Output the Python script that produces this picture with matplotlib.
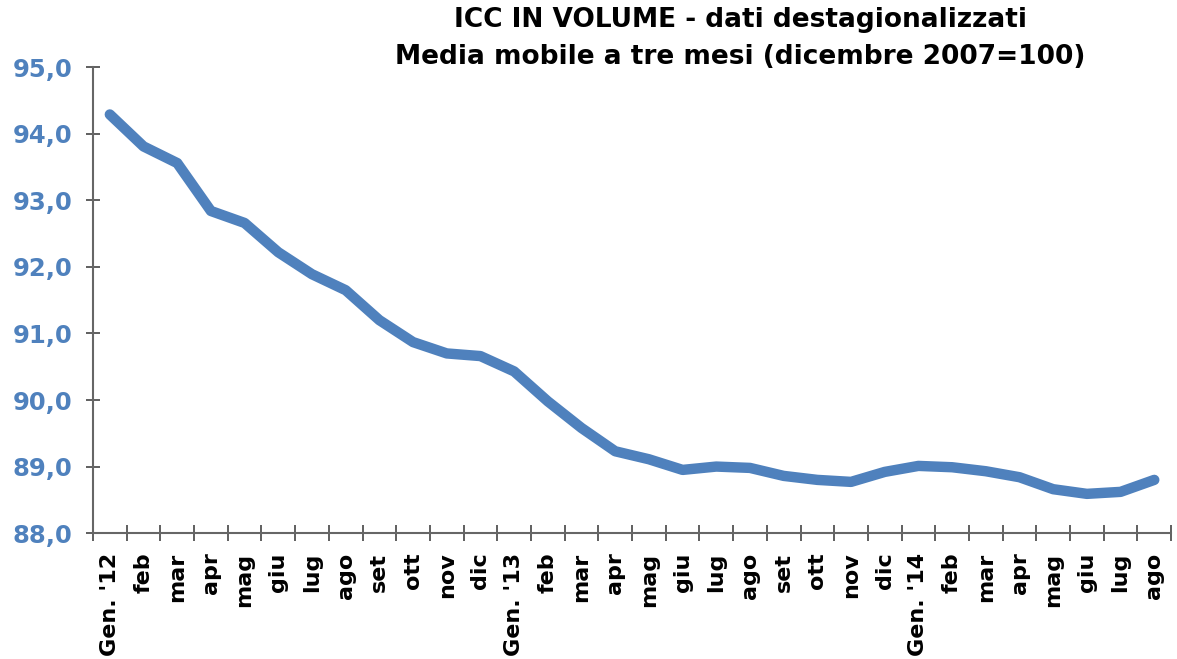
import matplotlib
matplotlib.use("Agg")
import matplotlib.pyplot as plt
import numpy as np

months = ["Gen. '12", "feb", "mar", "apr", "mag", "giu", "lug", "ago", "set", "ott", "nov", "dic",
          "Gen. '13", "feb", "mar", "apr", "mag", "giu", "lug", "ago", "set", "ott", "nov", "dic",
          "Gen. '14", "feb", "mar", "apr", "mag", "giu", "lug", "ago"]
icc = [94.29, 93.81, 93.56, 92.84, 92.66, 92.22, 91.89, 91.65, 91.20, 90.87, 90.70, 90.66,
       90.43, 89.98, 89.58, 89.23, 89.11, 88.95, 89.00, 88.98, 88.86, 88.80, 88.77, 88.92,
       89.01, 88.99, 88.93, 88.84, 88.66, 88.59, 88.62, 88.80]
yticks = [88, 89, 90, 91, 92, 93, 94, 95]

blue = "#4F81BD"

fig = plt.figure(figsize=(11.77, 6.59), dpi=100)
ax = fig.add_axes([0.079, 0.191, 0.916, 0.707])

x = np.arange(len(icc))
ax.plot(x, icc, color=blue, linewidth=7.5, solid_capstyle="round", solid_joinstyle="round")

ax.set_xlim(-0.5, len(icc) - 0.5)
ax.set_ylim(88, 95)

# y axis
ax.set_yticks(yticks)
ax.set_yticklabels([f"{v:.1f}".replace(".", ",") for v in yticks],
                   color=blue, fontsize=17.5, fontweight="bold")
ax.tick_params(axis="y", direction="inout", length=10, width=1.2, color="#444444", pad=10)

# x axis: ticks at boundaries, labels at centres
ax.set_xticks(np.arange(-0.5, len(icc)), labels=[])
ax.tick_params(axis="x", which="major", direction="inout", length=12, width=1.2, color="#444444")
ax.set_xticks(x, minor=True)
ax.set_xticklabels(months, minor=True, rotation=90, fontsize=16, fontweight="bold")
ax.tick_params(axis="x", which="minor", length=0, pad=14)

for s in ["top", "right"]:
    ax.spines[s].set_visible(False)
for s in ["left", "bottom"]:
    ax.spines[s].set_color("#666666")
    ax.spines[s].set_linewidth(1.5)

fig.text(0.629, 0.99, "ICC IN VOLUME - dati destagionalizzati\nMedia mobile a tre mesi (dicembre 2007=100)",
         ha="center", va="top", fontsize=19, fontweight="bold", linespacing=1.55)

fig.savefig("out.png", dpi=100)
